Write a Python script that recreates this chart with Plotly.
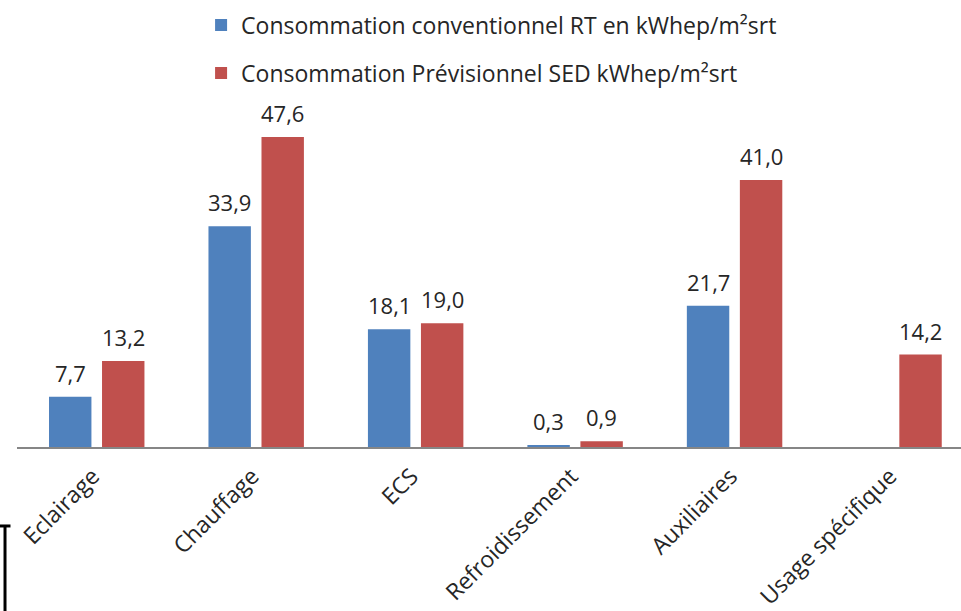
import plotly.graph_objects as go

categories = ["Eclairage", "Chauffage", "ECS", "Refroidissement", "Auxiliaires", "Usage spécifique"]
rt_values = [7.7, 33.9, 18.1, 0.3, 21.7, None]
sed_values = [13.2, 47.6, 19.0, 0.9, 41.0, 14.2]
series_names = ["Consommation conventionnel RT en kWhep/m²srt",
                "Consommation Prévisionnel SED kWhep/m²srt"]
colors = ["#4F81BD", "#C0504D"]

def fmt(v):
    return f"{v:.1f}".replace(".", ",")

FONT = "Open Sans"
TXT = "#262626"
BARGAP = 0.335
GROUPGAP = 0.2
xs = list(range(len(categories)))
slot = (1 - BARGAP) / 2
offsets = [-slot / 2, slot / 2]

fig = go.Figure()
fig.add_trace(go.Bar(x=xs, y=rt_values, name=series_names[0], marker_color=colors[0],
                     marker_line_width=0, legend="legend", hoverinfo="skip"))
fig.add_trace(go.Bar(x=xs, y=sed_values, name=series_names[1], marker_color=colors[1],
                     marker_line_width=0, legend="legend2", hoverinfo="skip"))

annotations = []
for vals, off in zip([rt_values, sed_values], offsets):
    for i, v in zip(xs, vals):
        if v is None:
            continue
        annotations.append(dict(x=i + off, y=v, xref="x", yref="y", text=fmt(v),
                                showarrow=False, yanchor="bottom", yshift=7,
                                font=dict(size=22, color=TXT, family=FONT)))

fig.update_layout(
    width=961, height=611,
    paper_bgcolor="white", plot_bgcolor="white",
    margin=dict(l=17, r=0, t=100, b=164, autoexpand=False),
    barmode="group", bargap=BARGAP, bargroupgap=GROUPGAP,
    font=dict(family=FONT, color=TXT),
    legend=dict(x=0.195, y=1 - 25 / 611, xanchor="left", yanchor="middle",
                yref="container",
                font=dict(size=23, color=TXT, family=FONT),
                bgcolor="rgba(0,0,0,0)", itemwidth=30),
    legend2=dict(x=0.195, y=1 - 73 / 611, xanchor="left", yanchor="middle",
                 yref="container",
                 font=dict(size=23, color=TXT, family=FONT),
                 bgcolor="rgba(0,0,0,0)", itemwidth=30),
    showlegend=True,
    annotations=annotations,
    xaxis=dict(tickmode="array", tickvals=xs, ticktext=categories,
               range=[-0.5, 5.42], tickangle=-45, automargin=False,
               tickfont=dict(size=23, color=TXT, family=FONT),
               ticklabelstandoff=5, ticklabelshift=-4,
               showline=True, linecolor="#868686", linewidth=1.5,
               showgrid=False, ticks="", zeroline=False, fixedrange=True),
    yaxis=dict(range=[0, 53.3], visible=False, showgrid=False, zeroline=False,
               automargin=False, fixedrange=True),
    shapes=[
        dict(type="line", xref="paper", yref="paper", x0=-0.0127, x1=-0.0127,
             y0=-0.2276, y1=-0.48, line=dict(color="black", width=3)),
        dict(type="line", xref="paper", yref="paper", x0=-0.019, x1=-0.0069,
             y0=-0.2276, y1=-0.2276, line=dict(color="black", width=3)),
    ],
)

fig.write_html("out.html", config={"displayModeBar": False},
               post_script="document.body.style.margin='0';")
